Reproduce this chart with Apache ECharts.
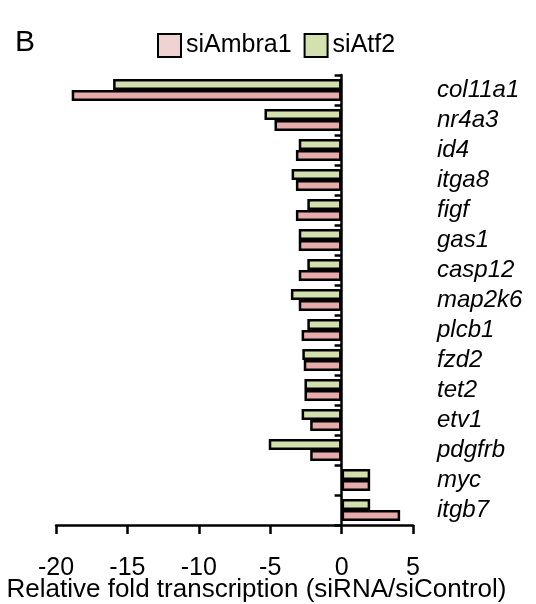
<!DOCTYPE html>
<html>
<head>
<meta charset="utf-8">
<script src="https://cdn.jsdelivr.net/npm/echarts@6/dist/echarts.min.js"></script>
<style>
  html, body { margin: 0; padding: 0; background: #fff; }
  #chart { width: 536px; height: 604px; }
</style>
</head>
<body>
<div id="chart"></div>
<script>
// genes, top to bottom
var genes = ['col11a1', 'nr4a3', 'id4', 'itga8', 'figf', 'gas1', 'casp12', 'map2k6',
  'plcb1', 'fzd2', 'tet2', 'etv1', 'pdgfrb', 'myc', 'itgb7']
var siAmbra1 = [-18.9, -4.7, -3.2, -3.2, -3.2, -3.0, -3.0, -3.0, -2.8, -2.65, -2.6, -2.2, -2.2, 2.0, 4.1]
var siAtf2 = [-16.0, -5.4, -3.0, -3.5, -2.4, -3.0, -2.4, -3.55, -2.4, -2.75, -2.6, -2.8, -5.1, 2.0, 2.0]
var xTicks = { min: -20, max: 5, interval: 5 }

var pink = '#e6abab'
var green = '#d4dfae'
var font = 'Liberation Sans'

var chart = echarts.init(document.getElementById('chart'))
var option = {
  animation: false,
  textStyle: { fontFamily: font, color: '#000' },
  title: {
    text: 'B',
    left: 10,
    top: 23,
    textStyle: { fontFamily: font, fontSize: 30, fontWeight: 'normal', color: '#000' }
  },
  legend: {
    left: 152,
    top: 28,
    icon: 'rect',
    itemWidth: 23,
    itemHeight: 23,
    itemGap: 12,
    textStyle: { fontFamily: font, fontSize: 25, color: '#000' },
    data: [
      { name: 'siAmbra1', itemStyle: { color: '#f0d2d2', borderColor: '#000', borderWidth: 2 } },
      { name: 'siAtf2', itemStyle: { color: '#d2e1ad', borderColor: '#000', borderWidth: 2 } }
    ]
  },
  grid: { left: 56, right: 123, top: 75, bottom: 79, containLabel: false, outerBoundsMode: 'none' },
  xAxis: {
    type: 'value',
    min: xTicks.min,
    max: xTicks.max,
    interval: xTicks.interval,
    name: 'Relative fold transcription (siRNA/siControl)',
    nameLocation: 'middle',
    nameGap: 52,
    nameMoveOverlap: false,
    nameTextStyle: { fontFamily: font, fontSize: 26, color: '#000', padding: [0, 0, 0, 44] },
    axisLine: { show: true, onZero: false, lineStyle: { color: '#000', width: 2.5 } },
    axisTick: { show: true, length: 9, lineStyle: { color: '#000', width: 2.5 } },
    axisLabel: { margin: 31, fontFamily: font, fontSize: 25, color: '#000' },
    splitLine: { show: false }
  },
  yAxis: [
    {
      type: 'category',
      data: genes,
      inverse: true,
      axisLine: { show: true, onZero: true, lineStyle: { color: '#000', width: 2.5 } },
      axisTick: { show: true, interval: 0, length: 7, lineStyle: { color: '#000', width: 2.5 } },
      axisLabel: { show: false, interval: 0 }
    },
    {
      type: 'category',
      data: genes,
      inverse: true,
      position: 'right',
      axisLine: { show: false },
      axisTick: { show: false },
      axisLabel: { interval: 0, margin: 24, fontFamily: font, fontSize: 24, fontStyle: 'italic', color: '#000' }
    }
  ],
  series: [
    {
      name: 'siAtf2',
      type: 'bar',
      data: siAtf2,
      barWidth: 11,
      barGap: '0%',
      itemStyle: { color: green, borderColor: '#000', borderWidth: 2.5 }
    },
    {
      name: 'siAmbra1',
      type: 'bar',
      data: siAmbra1,
      barWidth: 11,
      barGap: '0%',
      itemStyle: { color: pink, borderColor: '#000', borderWidth: 2.5 }
    }
  ]
}
option && chart.setOption(option)
</script>
</body>
</html>
